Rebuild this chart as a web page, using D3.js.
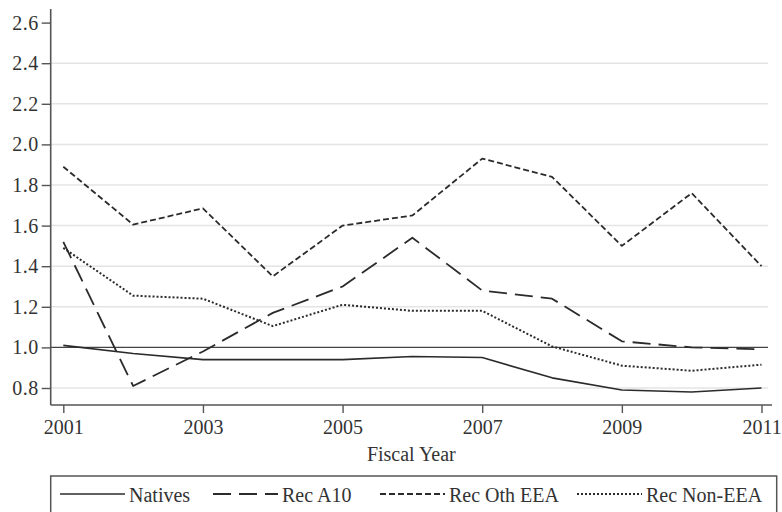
<!DOCTYPE html>
<html>
<head>
<meta charset="utf-8">
<script src="https://cdn.jsdelivr.net/npm/d3@7"></script>
<style>
  html, body { margin: 0; padding: 0; background: #fff; }
  svg { display: block; }
  text { font-family: "Liberation Serif", "Times New Roman", serif; fill: #333; }
</style>
</head>
<body>
<svg id="chart" width="782" height="512"></svg>
<script>
// Fiscal years on the x axis
const years = [2001, 2002, 2003, 2004, 2005, 2006, 2007, 2008, 2009, 2010, 2011];

// Series values (relative to the 1.0 baseline)
const natives   = [1.01, 0.97, 0.94, 0.94, 0.94, 0.955, 0.95, 0.85, 0.79, 0.78, 0.80];
const recA10    = [1.52, 0.81, 0.98, 1.17, 1.30, 1.54, 1.28, 1.24, 1.03, 1.00, 0.99];
const recOthEEA = [1.89, 1.605, 1.685, 1.35, 1.60, 1.65, 1.93, 1.84, 1.50, 1.76, 1.40];
const recNonEEA = [1.49, 1.255, 1.24, 1.105, 1.21, 1.18, 1.18, 1.005, 0.91, 0.885, 0.915];

const seriesNames = ["Natives", "Rec A10", "Rec Oth EEA", "Rec Non-EEA"];

// Axis ticks
const yTicks = [0.8, 1.0, 1.2, 1.4, 1.6, 1.8, 2.0, 2.2, 2.4, 2.6];
const xTicks = [2001, 2003, 2005, 2007, 2009, 2011];

const series = [
  { name: seriesNames[0], values: natives,   dash: null,    width: 1.6 },
  { name: seriesNames[1], values: recA10,    dash: "18,8",  width: 1.8 },
  { name: seriesNames[2], values: recOthEEA, dash: "6,3",   width: 1.8 },
  { name: seriesNames[3], values: recNonEEA, dash: "2,2",   width: 2.0 }
];

const svg = d3.select("#chart");
const ink = "#2b2b2b";
const axisColor = "#555";

// Plot region
const plotLeft = 50.7, plotRight = 772, plotTop = 9, plotBottom = 405;

const x = d3.scaleLinear().domain([2001, 2011]).range([63.3, 761.5]);
const y = d3.scaleLinear().domain([0.8, 2.6]).range([388, 22.6]);

// Horizontal grid lines
svg.append("g")
  .selectAll("line")
  .data(yTicks.filter(v => v !== 2.6 && v !== 1.0))
  .join("line")
  .attr("x1", plotLeft).attr("x2", plotRight - 4)
  .attr("y1", d => y(d)).attr("y2", d => y(d))
  .attr("stroke", "#e4e4e4")
  .attr("stroke-width", 1.5);

// Reference line at 1.0
svg.append("line")
  .attr("x1", plotLeft).attr("x2", plotRight - 4)
  .attr("y1", y(1.0)).attr("y2", y(1.0))
  .attr("stroke", "#444")
  .attr("stroke-width", 1.4);

// Y axis
const yAxis = d3.axisLeft(y)
  .tickValues(yTicks)
  .tickFormat(d3.format(".1f"))
  .tickSize(9)
  .tickPadding(3);

const gy = svg.append("g")
  .attr("transform", `translate(${plotLeft},0)`)
  .call(yAxis);
gy.select(".domain").remove();
gy.append("line")
  .attr("x1", 0).attr("x2", 0)
  .attr("y1", plotTop).attr("y2", plotBottom)
  .attr("stroke", axisColor).attr("stroke-width", 1.6);
gy.selectAll(".tick line").attr("stroke", axisColor).attr("stroke-width", 1.4);
gy.selectAll(".tick text")
  .attr("font-size", 20)
  .attr("fill", "#333")
  .attr("letter-spacing", 0.5);

// X axis
const xAxis = d3.axisBottom(x)
  .tickValues(xTicks)
  .tickFormat(d3.format("d"))
  .tickSize(8)
  .tickPadding(7);

const gx = svg.append("g")
  .attr("transform", `translate(0,${plotBottom})`)
  .call(xAxis);
gx.select(".domain").remove();
gx.append("line")
  .attr("x1", plotLeft).attr("x2", plotRight)
  .attr("y1", 0).attr("y2", 0)
  .attr("stroke", axisColor).attr("stroke-width", 1.6);
gx.selectAll(".tick line").attr("stroke", axisColor).attr("stroke-width", 1.4);
gx.selectAll(".tick text")
  .attr("font-size", 20)
  .attr("fill", "#333");

// X axis title
svg.append("text")
  .attr("x", (plotLeft + plotRight) / 2)
  .attr("y", 461)
  .attr("text-anchor", "middle")
  .attr("font-size", 20)
  .text("Fiscal Year");

// Series lines
const line = d3.line()
  .x((d, i) => x(years[i]))
  .y(d => y(d));

svg.append("g")
  .selectAll("path")
  .data(series)
  .join("path")
  .attr("d", d => line(d.values))
  .attr("fill", "none")
  .attr("stroke", ink)
  .attr("stroke-width", d => d.width)
  .attr("stroke-dasharray", d => d.dash)
  .attr("stroke-linejoin", "round");

// Legend
const legend = svg.append("g");
legend.append("rect")
  .attr("x", 50.7).attr("y", 476)
  .attr("width", 726).attr("height", 44)
  .attr("fill", "#fff")
  .attr("stroke", "#555")
  .attr("stroke-width", 1.5);

const legendX = [60, 213, 380, 577];
const items = legend.selectAll("g.item")
  .data(series)
  .join("g")
  .attr("class", "item")
  .attr("transform", (d, i) => `translate(${legendX[i]},494)`);

items.append("line")
  .attr("x1", 0).attr("x2", 65)
  .attr("y1", 0).attr("y2", 0)
  .attr("stroke", ink)
  .attr("stroke-width", d => d.width)
  .attr("stroke-dasharray", d => d.dash);

items.append("text")
  .attr("x", 69)
  .attr("y", 8)
  .attr("font-size", 20)
  .text(d => d.name);
</script>
</body>
</html>
